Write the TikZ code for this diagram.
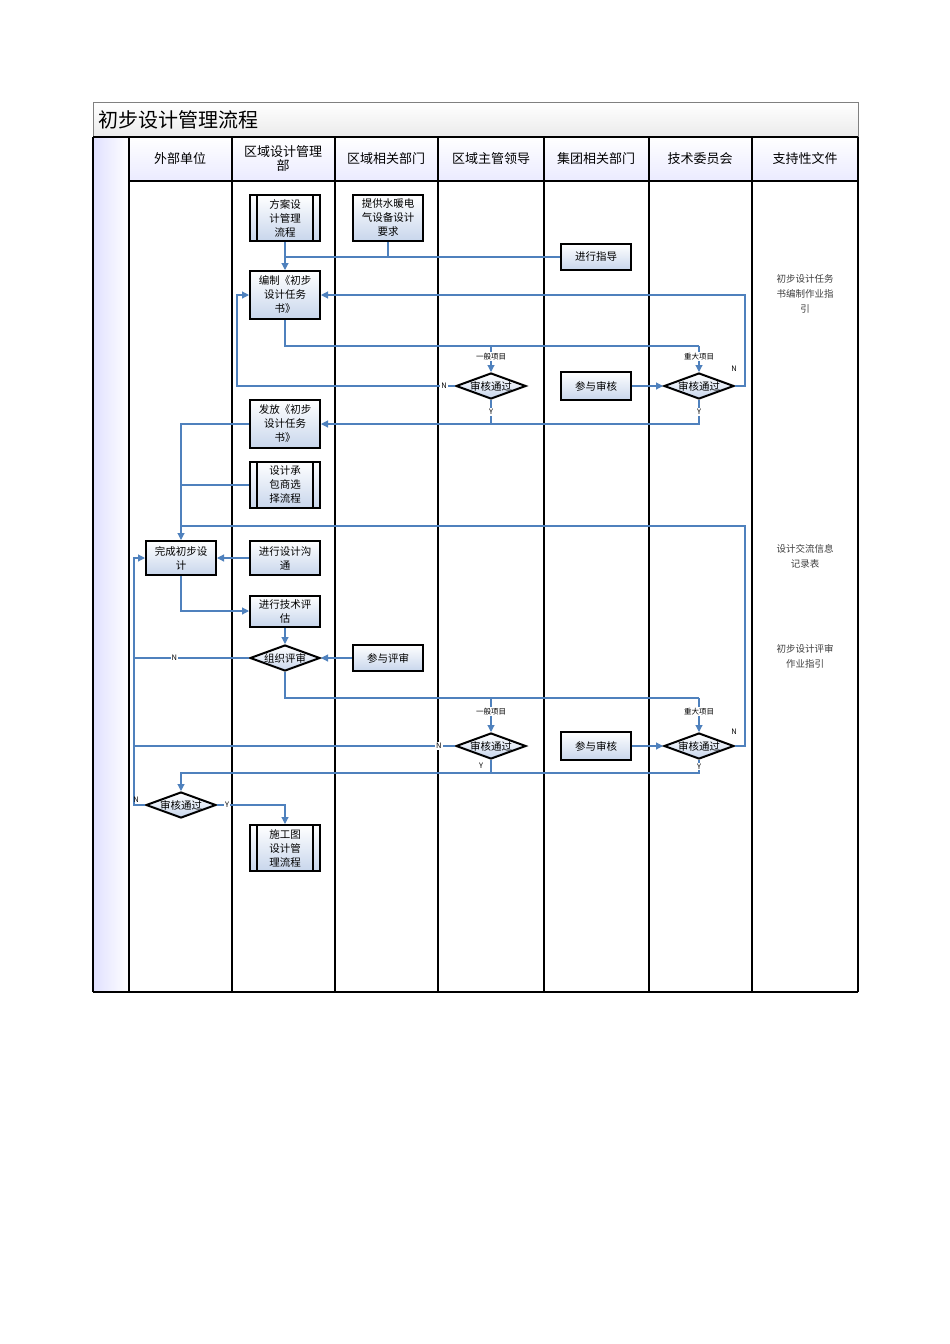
\documentclass[tikz,border=0pt]{standalone}
\usepackage{fontspec}
\setmainfont{Noto Sans CJK SC}
\usetikzlibrary{shapes.geometric,arrows.meta}
\definecolor{ln}{RGB}{79,129,189}
\definecolor{bxf}{RGB}{200,214,236}
\begin{document}
\begin{tikzpicture}[x=1pt,y=-1pt,
 box/.style={draw=black,line width=2pt,top color=white,bottom color=bxf,minimum width=70pt,inner sep=1pt,align=center,font=\fontsize{10.5}{14}\selectfont},
 dia/.style={diamond,draw=black,line width=2pt,top color=white,bottom color=bxf,minimum width=70pt,minimum height=26pt,shape aspect=2.7,inner sep=0pt,font=\fontsize{10.5}{11}\selectfont},
 con/.style={draw=ln,line width=1.1pt},
 arr/.style={con,-{Triangle[length=7pt,width=7pt]}},
 sm/.style={font=\fontsize{7.5}{8}\selectfont,inner sep=1pt},
 hd/.style={font=\fontsize{13}{14}\selectfont,align=center},
 doc/.style={font=\fontsize{9.5}{15}\selectfont,align=center,text=black!75}]
\useasboundingbox (0,0) rectangle (950,1344);
\fill[white] (0,0) rectangle (950,1344);
% frame
\shade[top color=white,bottom color=black!8] (93,102) rectangle (858,137);
\shade[left color=blue!12,right color=white] (93,137) rectangle (129,992);
\shade[top color=white,bottom color=blue!8] (129,137) rectangle (858,181);
\draw[black!50,line width=0.8pt] (93,102) rectangle (858,137);
\node[font=\fontsize{20}{21}\selectfont,anchor=west] (title) at (95,120) {初步设计管理流程};
\draw[line width=1.5pt] (93,137) -- (858,137) (93,992) -- (858,992) (93,137) -- (93,992) (858,137)--(858,992);
\draw[line width=1.5pt] (129,181) -- (858,181);
\foreach \x in {129,232,335,438,544,649,752} \draw[line width=1.8pt] (\x,137) -- (\x,992);
\node[hd] (h1) at (180,159) {外部单位};
\node[hd] (h2) at (283,159) {区域设计管理\\部};
\node[hd] (h3) at (386,159) {区域相关部门};
\node[hd] (h4) at (491,159) {区域主管领导};
\node[hd] (h5) at (596,159) {集团相关部门};
\node[hd] (h6) at (700,159) {技术委员会};
\node[hd] (h7) at (805,159) {支持性文件};
% nodes
\node[box,minimum height=46pt] (A) at (285,218) {方案设\\计管理\\流程};
\node[box,minimum height=46pt] (B) at (388,218) {提供水暖电\\气设备设计\\要求};
\node[box,minimum height=26pt] (G) at (596,257) {进行指导};
\node[box,minimum height=48pt] (C) at (285,295) {编制《初步\\设计任务\\书》};
\node[dia] (D1) at (491,386) {审核通过};
\node[dia] (D2) at (699,386) {审核通过};
\node[box,minimum height=28pt] (P1) at (596,386) {参与审核};
\node[box,minimum height=48pt] (E) at (285,424) {发放《初步\\设计任务\\书》};
\node[box,minimum height=46pt] (F) at (285,485) {设计承\\包商选\\择流程};
\node[box,minimum height=34pt] (H) at (181,558) {完成初步设\\计};
\node[box,minimum height=34pt] (I) at (285,558) {进行设计沟\\通};
\node[box,minimum height=31pt] (J) at (285,611) {进行技术评\\估};
\node[dia] (K) at (285,658) {组织评审};
\node[box,minimum height=26pt] (L) at (388,658) {参与评审};
\node[dia] (D3) at (491,746) {审核通过};
\node[dia] (D4) at (699,746) {审核通过};
\node[box,minimum height=28pt] (P2) at (596,746) {参与审核};
\node[dia] (D5) at (181,805) {审核通过};
\node[box,minimum height=46pt] (M) at (285,848) {施工图\\设计管\\理流程};
\foreach \n in {A,F,M}{\draw[line width=1.5pt] ([xshift=8pt]\n.north west) -- ([xshift=8pt]\n.south west) ([xshift=-8pt]\n.north east) -- ([xshift=-8pt]\n.south east);}
% support docs
\node[doc] (s1) at (805,294) {初步设计任务\\书编制作业指\\引};
\node[doc] (s2) at (805,556) {设计交流信息\\记录表};
\node[doc] (s3) at (805,656) {初步设计评审\\作业指引};
% coordinates
\coordinate (j1) at (285,257);
\coordinate (j2) at (285,346);
\coordinate (j3) at (491,346);
\coordinate (j4) at (699,346);
\coordinate (j5) at (285,698);
\coordinate (j6) at (491,698);
\coordinate (j7) at (699,698);
\coordinate (j8) at (181,773);
% connectors top
\draw[arr] (A.south) -- (C.north);
\draw[con] (B.south) |- (j1);
\draw[con] (G.west) -- (j1);
\draw[con] (C.south) -- (j2) -- (j4);
\draw[arr] (j3) -- node[sm,fill=white,pos=0.4]{一般项目} (D1.north);
\draw[arr] (j4) -- node[sm,fill=white,pos=0.4]{重大项目} (D2.north);
\draw[arr] (P1.east) -- (D2.west);
\draw[arr] (D1.west) -- node[sm,pos=0.05,fill=white]{N} (237,386) -- (237,295) -- (C.west);
\draw[arr] (D2.east) -- (745,386) -- (745,295) -- (C.east);
\node[sm] (n2) at (734,369) {N};
\draw[con] (D1.south) -- node[sm,pos=0.5,fill=white]{Y} (491,424);
\draw[arr] (D2.south) -- node[sm,pos=0.5,fill=white]{Y} (699,424) -- (E.east);
\draw[arr] (E.west) -- (181,424) -- (H.north);
\draw[con] (F.west) -- (181,485);
% middle
\draw[con] (D4.east) -- (745,746) -- (745,526) -- (181,526);
\node[sm] (n4) at (734,732) {N};
\draw[arr] (I.west) -- (H.east);
\draw[arr] (H.south) |- (J.west);
\draw[arr] (J.south) -- (K.north);
\draw[arr] (L.west) -- (K.east);
\draw[arr] (K.west) -- node[sm,pos=0.65,fill=white]{N} (134,658) -- (134,558) -- (H.west);
\draw[con] (K.south) -- (j5) -- (j7);
\draw[arr] (j6) -- node[sm,fill=white,pos=0.4]{一般项目} (D3.north);
\draw[arr] (j7) -- node[sm,fill=white,pos=0.4]{重大项目} (D4.north);
\draw[arr] (P2.east) -- (D4.west);
\draw[con] (D3.west) -- node[sm,pos=0.05,fill=white]{N} (134,746);
\draw[con] (D3.south) -- (491,773);
\node[sm] (y3) at (481,766) {Y};
\draw[arr] (D4.south) -- node[sm,pos=0.5,fill=white]{Y} (699,773) -- (j8) -- (D5.north);
\draw[con] (D5.west) -- (134,805) -- (134,658);
\node[sm] (n5) at (136,800) {N};
\draw[arr] (D5.east) -- node[sm,pos=0.15,fill=white]{Y} (285,805) -- (M.north);
\end{tikzpicture}
\end{document}
